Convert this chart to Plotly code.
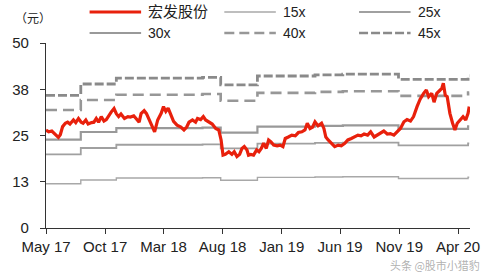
import plotly.graph_objects as go

# ---------------- data ----------------
price_dates = [
    "2017-05-01", "2017-05-08", "2017-05-16", "2017-05-25", "2017-06-02", "2017-06-07",
    "2017-06-13", "2017-06-20", "2017-06-26", "2017-07-02", "2017-07-11", "2017-07-17",
    "2017-07-24", "2017-07-31", "2017-08-05", "2017-08-12", "2017-08-18", "2017-08-27",
    "2017-09-02", "2017-09-08", "2017-09-14", "2017-09-21", "2017-09-28", "2017-10-04",
    "2017-10-11", "2017-10-17", "2017-10-24", "2017-10-30", "2017-11-05", "2017-11-11",
    "2017-11-20", "2017-11-29", "2017-12-05", "2017-12-14", "2017-12-20", "2017-12-28",
    "2018-01-02", "2018-01-10", "2018-01-16", "2018-01-22", "2018-01-29",
    "2018-02-06", "2018-02-14", "2018-02-23", "2018-03-01", "2018-03-07", "2018-03-13",
    "2018-03-20", "2018-03-27", "2018-04-05", "2018-04-15", "2018-04-23", "2018-04-30",
    "2018-05-06", "2018-05-15", "2018-05-23", "2018-05-28", "2018-06-05", "2018-06-12",
    "2018-06-18", "2018-06-27", "2018-07-05", "2018-07-14", "2018-07-22", "2018-07-28",
    "2018-08-02", "2018-08-08", "2018-08-17", "2018-08-25", "2018-08-31", "2018-09-07",
    "2018-09-14", "2018-09-20", "2018-09-26", "2018-10-03", "2018-10-07", "2018-10-13",
    "2018-10-20", "2018-10-28", "2018-11-03", "2018-11-09", "2018-11-15", "2018-11-22",
    "2018-11-28", "2018-12-04", "2018-12-11", "2018-12-20", "2018-12-28",
    "2019-01-04", "2019-01-10", "2019-01-18", "2019-01-27", "2019-02-05", "2019-02-13",
    "2019-02-22", "2019-03-02", "2019-03-08", "2019-03-15", "2019-03-22", "2019-03-28",
    "2019-04-05", "2019-04-14", "2019-04-20", "2019-04-25", "2019-05-01", "2019-05-10",
    "2019-05-18", "2019-05-27", "2019-06-04", "2019-06-13", "2019-06-21", "2019-06-30",
    "2019-07-08", "2019-07-17", "2019-07-25", "2019-08-02", "2019-08-11", "2019-08-19",
    "2019-08-28", "2019-09-05", "2019-09-14", "2019-09-22", "2019-10-01", "2019-10-09",
    "2019-10-18", "2019-10-26", "2019-11-04", "2019-11-13", "2019-11-21", "2019-11-30",
    "2019-12-08", "2019-12-17", "2019-12-25",
    "2020-01-03", "2020-01-10", "2020-01-16", "2020-01-24", "2020-01-30", "2020-02-06",
    "2020-02-13", "2020-02-19", "2020-02-23", "2020-02-28", "2020-03-04", "2020-03-11",
    "2020-03-18", "2020-03-24", "2020-03-30", "2020-04-06", "2020-04-14", "2020-04-21",
    "2020-04-27", "2020-04-30",
]
price_values = [
    26.5, 26.0, 26.2, 25.4, 24.5, 25.2,
    27.4, 28.3, 28.6, 28.1, 29.2, 28.5,
    29.6, 28.6, 28.3, 29.2, 28.1, 28.5,
    28.6, 29.6, 28.6, 30.1, 28.9, 29.3,
    30.5, 31.4, 32.3, 30.9, 30.1, 30.8,
    29.6, 30.1, 30.0, 30.3, 29.6, 28.6,
    30.9, 31.7, 30.9, 29.6, 27.8,
    26.0, 29.2, 31.0, 32.8, 31.5, 32.4,
    30.6, 28.8, 27.8, 27.3, 26.5, 27.3,
    28.6, 29.2, 28.6, 29.6, 29.3, 30.1,
    29.2, 28.6, 28.1, 26.9, 26.5, 23.8,
    19.7, 19.9, 20.6, 19.9, 20.6, 19.3,
    19.9, 21.5, 22.0, 21.1, 19.7, 19.9,
    19.7, 21.1, 20.6, 21.5, 22.9, 21.5,
    23.8, 23.3, 22.4, 22.2, 22.4,
    22.0, 24.2, 24.6, 25.1, 24.9, 25.8,
    26.0, 26.5, 28.3, 26.9, 27.3, 28.7,
    27.6, 28.3, 26.9, 24.6, 23.8, 22.9,
    22.0, 22.4, 22.2, 22.9, 23.8, 24.2,
    24.6, 25.1, 24.9, 25.4, 25.1, 26.0,
    24.6, 25.1, 25.8, 26.2, 25.4, 25.5,
    25.1, 26.0, 26.9, 28.7, 29.3, 28.9,
    30.1, 32.8, 34.8,
    36.4, 37.3, 35.5, 36.4, 34.0, 36.4,
    37.1, 37.7, 39.1, 35.9, 35.5, 31.0,
    28.3, 26.5, 28.3, 29.2, 30.1, 29.2,
    31.0, 32.8,
]

# EPS (TTM) steps underlying the PE bands
eps_dates = ["2017-05-01", "2017-07-30", "2017-10-30", "2018-06-10", "2018-07-27",
             "2018-10-30", "2019-03-28", "2019-06-08", "2019-10-30", "2020-04-27",
             "2020-04-30"]
eps_values = [0.797, 0.865, 0.900, 0.905, 0.860, 0.913, 0.920, 0.924, 0.893, 0.915, 0.915]

pe_multiples = [15, 25, 30, 40, 45]
band_names = ["15x", "25x", "30x", "40x", "45x"]
stock_name = "宏发股份"

x_tick_vals = ["2017-05-01", "2017-10-01", "2018-03-01", "2018-08-01",
               "2019-01-01", "2019-06-01", "2019-11-01", "2020-04-01"]
x_tick_text = ["May 17", "Oct 17", "Mar 18", "Aug 18", "Jan 19", "Jun 19", "Nov 19", "Apr 20"]
y_tick_vals = [0, 12.5, 25, 37.5, 50]
y_tick_text = ["0", "13", "25", "38", "50"]

# ---------------- styles ----------------
RED = "rgb(232,32,12)"
band_styles = {
    "15x": dict(color="#a8a8a8", width=1.4, dash="solid"),
    "25x": dict(color="#a0a0a0", width=1.8, dash="solid"),
    "30x": dict(color="#999999", width=2.2, dash="solid"),
    "40x": dict(color="#979797", width=2.6, dash="11px,6px"),
    "45x": dict(color="#8a8a8a", width=2.8, dash="9px,3px"),
}
legend_dash = {"40x": "10px,5px", "45x": "9px,3px"}

W, H = 496, 273
ML, MR, MT, MB = 42, 26, 43, 45
PW, PH = W - ML - MR, H - MT - MB


def px_x(px):
    return (px - ML) / PW


def px_y(py):
    return (H - MB - py) / PH


fig = go.Figure()

for name, mult in zip(band_names, pe_multiples):
    fig.add_trace(go.Scatter(
        x=eps_dates, y=[mult * e for e in eps_values], mode="lines",
        line=dict(shape="hv", **band_styles[name]), name=name, showlegend=False,
        hoverinfo="skip"))

fig.add_trace(go.Scatter(
    x=price_dates, y=price_values, mode="lines",
    line=dict(color=RED, width=3.2), name=stock_name, showlegend=False))

# ---------------- custom legend ----------------
legend_items = [
    (stock_name, dict(color=RED, width=3.2, dash="solid"), 86, 12, 15),
    ("15x", band_styles["15x"], 222, 12, 14),
    ("25x", band_styles["25x"], 358, 12, 14),
    ("30x", band_styles["30x"], 86, 33, 14),
    ("40x", band_styles["40x"], 222, 33, 14),
    ("45x", band_styles["45x"], 358, 33, 14),
]
shapes = []
annotations = []
for label, st, lx, ly, fs in legend_items:
    dash = legend_dash.get(label, st["dash"])
    width = min(st["width"], 2.4) if label in legend_dash else st["width"]
    shapes.append(dict(type="line", xref="paper", yref="paper",
                       x0=px_x(lx), x1=px_x(lx + 52), y0=px_y(ly), y1=px_y(ly),
                       line=dict(color=st["color"], width=width, dash=dash)))
    annotations.append(dict(xref="paper", yref="paper", x=px_x(lx + 57), y=px_y(ly),
                            xanchor="left", yanchor="middle", showarrow=False,
                            text=label,
                            font=dict(size=fs, color="#222",
                                      family="Liberation Sans, Noto Sans CJK SC")))

annotations.append(dict(xref="paper", yref="paper", x=px_x(9), y=px_y(17),
                        xanchor="left", yanchor="middle", showarrow=False,
                        text="（元）",
                        font=dict(size=12, color="#222", family="Noto Sans CJK SC")))
annotations.append(dict(xref="paper", yref="paper", x=px_x(482), y=px_y(265),
                        xanchor="right", yanchor="middle", showarrow=False,
                        text="头条 @股市小猎豹",
                        font=dict(size=11, color="rgba(150,150,150,0.75)",
                                  family="Noto Sans CJK SC")))

fig.update_layout(
    width=W, height=H,
    margin=dict(l=ML, r=MR, t=MT, b=MB, pad=0),
    paper_bgcolor="white", plot_bgcolor="white",
    showlegend=False,
    shapes=shapes, annotations=annotations,
    font=dict(family="Liberation Sans, Arial", size=15, color="#222"),
    xaxis=dict(
        type="date", range=["2017-05-01", "2020-05-02"],
        tickmode="array", tickvals=x_tick_vals, ticktext=x_tick_text,
        ticks="outside", ticklen=5, tickwidth=1.2, tickcolor="#333",
        showline=True, linecolor="#333", linewidth=1.3,
        showgrid=False, zeroline=False,
        tickfont=dict(size=15, color="#222"),
    ),
    yaxis=dict(
        range=[0, 50], tickmode="array", tickvals=y_tick_vals, ticktext=y_tick_text,
        ticks="outside", ticklen=5, tickwidth=1.2, tickcolor="#333",
        showline=True, linecolor="#333", linewidth=1.3,
        showgrid=False, zeroline=False,
        tickfont=dict(size=15, color="#222"),
        ticklabelstandoff=8,
    ),
)

fig.write_html("out.html")
